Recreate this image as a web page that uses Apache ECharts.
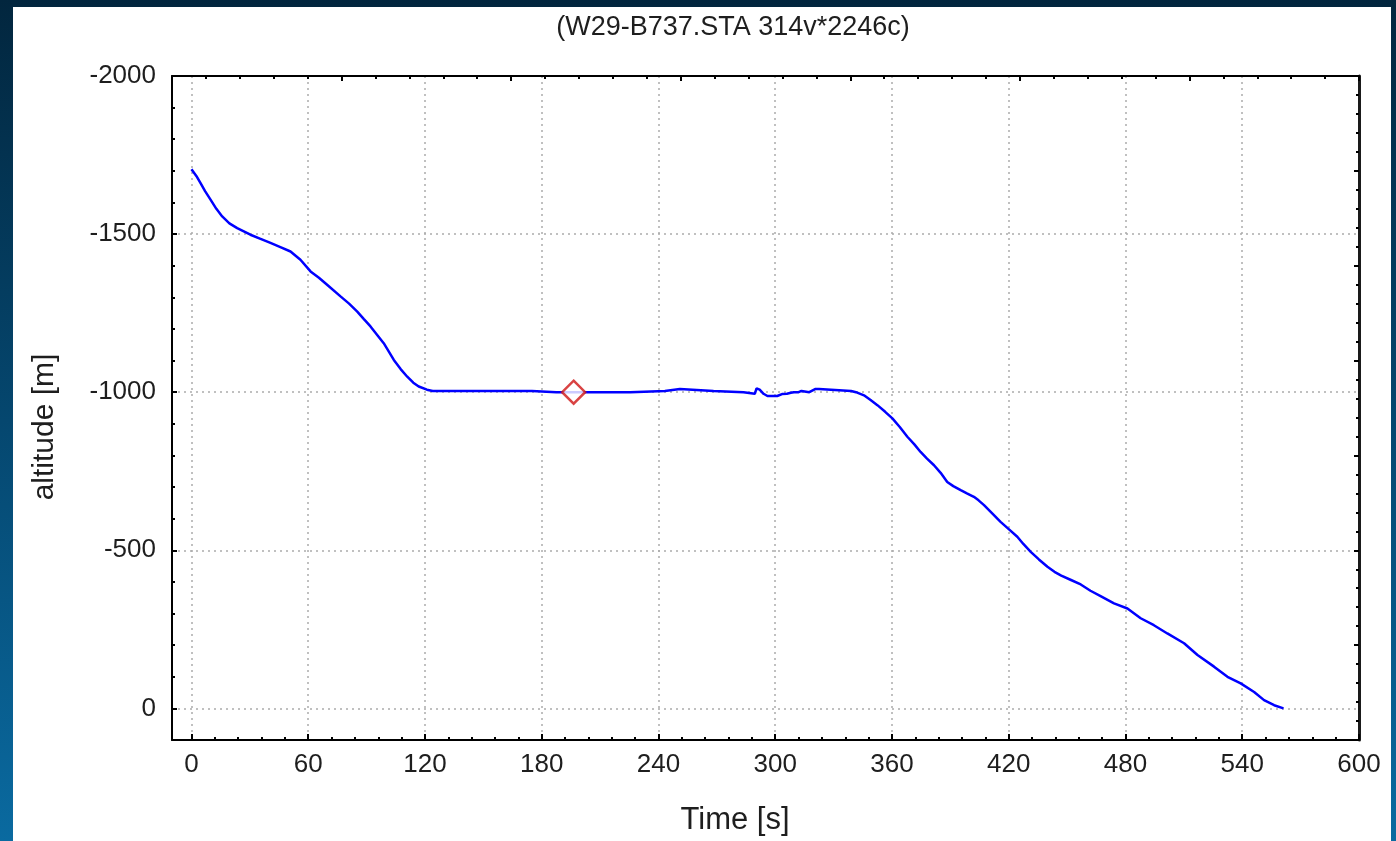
<!DOCTYPE html>
<html>
<head>
<meta charset="utf-8">
<title>W29-B737 altitude profile</title>
<script src="https://cdn.jsdelivr.net/npm/echarts@6/dist/echarts.min.js"></script>
<style>
  html, body {
    margin: 0; padding: 0; width: 1396px; height: 841px; overflow: hidden;
    background: linear-gradient(to bottom, #02263e 0%, #05476f 50%, #0a6aa0 100%);
  }
  #chart {
    position: absolute; left: 13px; top: 7px; width: 1378px; height: 834px;
    background: #ffffff;
  }
</style>
</head>
<body>
<div id="chart"></div>
<script>
// Flight record: elapsed time [s] and altitude [m] (negative = above reference)
const timeS = [
  0, 2.5, 4.6, 7, 9.8, 12.8, 15.8, 19.5, 23.5, 30.3, 35.5, 40.6, 46, 50.9,
  56, 61.2, 65.5, 69.7, 76.6, 81, 85.2, 88.5, 92, 98.8, 104, 107.5, 110.9,
  114, 116.8, 121, 124, 175, 175.3, 187.5, 188.3, 189.5, 225.5, 226, 243.3,
  243.8, 251, 251.4, 268.3, 268.7, 283.7, 284, 289.5, 290.4, 292, 294, 296,
  301, 303.5, 306, 308, 309.6, 312, 312.5, 313.5, 314, 317.5, 318, 320.5,
  322.5, 323.5, 339, 341.5, 345.6, 349, 352.5, 356.5, 360.2, 364, 367.9,
  371.5, 374.7, 378, 381.6, 385, 388.4, 391.5, 395.3, 398.5, 402.1, 404.5,
  407.3, 411.5, 415.8, 420, 424.4, 427.5, 431.3, 435.5, 439.9, 443.5, 447,
  452, 457, 462, 467.2, 474.1, 481, 487.8, 494.6, 501.5, 510.1, 517, 525.5,
  532.4, 539.2, 546.1, 551.2, 556.4, 561.2
];
const altitudeM = [
  -1705, -1684, -1662, -1636, -1609, -1580, -1556, -1534, -1519, -1498, -1485,
  -1472, -1458, -1445, -1419, -1382, -1362, -1340, -1303, -1280, -1255, -1232,
  -1208, -1155, -1102, -1073, -1049, -1030, -1018, -1008, -1004, -1004, -1000,
  -1000, -996, -1000, -1000, -1004, -1004, -1010, -1010, -1004, -1004, -1000,
  -1000, -995, -995, -1012, -1008, -995, -988, -988, -994, -995, -998, -1000,
  -1000, -1004, -1004, -1000, -1000, -1004, -1010, -1010, -1004, -1004, -1000,
  -990, -975, -959, -938, -917, -890, -859, -835, -811, -790, -769, -745, -716,
  -703, -690, -680, -669, -658, -643, -617, -590, -567, -543, -520, -495, -471,
  -448, -432, -420, -406, -392, -372, -355, -332, -316, -285, -263, -237, -206,
  -169, -132, -100, -79, -52, -26, -10, 0
];

// Highlighted sample
const markerPoint = [196.4, -1000];

// Axis ranges and tick labels
const timeRange = [-10, 600];
const altitudeRange = [-2000, 100];
const timeTicks = [0, 60, 120, 180, 240, 300, 360, 420, 480, 540, 600];
const altitudeTicks = [-2000, -1500, -1000, -500, 0];
const timeMinorStep = 12;
const altitudeMinorStep = 100;

// Texts
const chartTitle = '(W29-B737.STA 314v*2246c)';
const xName = 'Time [s]';
const yName = 'altitude [m]';

const timeMinorTicks = [];
for (let v = timeTicks[0]; v <= timeTicks[timeTicks.length - 1]; v += timeMinorStep) timeMinorTicks.push(v);
const altitudeMinorTicks = [];
for (let v = altitudeTicks[0]; v <= altitudeTicks[altitudeTicks.length - 1]; v += altitudeMinorStep) altitudeMinorTicks.push(v);

const FONT = '"Liberation Sans", Arial, sans-serif';
const INK = '#1e1e1e';
const plainNumber = v => String(v);
const frameLine = { show: true, onZero: false, lineStyle: { color: '#000', width: 2 } };
const gridDots = { show: true, lineStyle: { color: '#acacac', width: 1.5, type: [2, 4] } };

const chart = echarts.init(document.getElementById('chart'), null, { renderer: 'canvas' });

chart.setOption({
  animation: false,
  grid: { left: 159, right: 32, top: 69, bottom: 101, containLabel: false },
  xAxis: [
    {
      type: 'value', position: 'bottom', min: timeRange[0], max: timeRange[1],
      axisLine: frameLine,
      axisTick: { show: true, inside: true, length: 6, customValues: timeTicks, lineStyle: { color: '#000', width: 2 } },
      axisLabel: { show: true, customValues: timeTicks, formatter: plainNumber, margin: 12, fontFamily: FONT, fontSize: 26, color: INK },
      splitLine: gridDots
    },
    {
      type: 'value', position: 'bottom', min: timeRange[0], max: timeRange[1],
      axisLine: { show: false, onZero: false },
      axisTick: { show: true, inside: true, length: 3, customValues: timeMinorTicks, lineStyle: { color: '#000', width: 2 } },
      axisLabel: { show: false },
      splitLine: { show: false }
    },
    {
      type: 'value', position: 'top', min: 0, max: 7, interval: 1,
      axisLine: frameLine,
      axisTick: { show: true, inside: true, length: 5, lineStyle: { color: '#000', width: 2 } },
      minorTick: { show: true, splitNumber: 5, length: 3, lineStyle: { color: '#000', width: 2 } },
      axisLabel: { show: false },
      splitLine: { show: false }
    }
  ],
  yAxis: [
    {
      type: 'value', position: 'left', inverse: true, min: altitudeRange[0], max: altitudeRange[1],
      axisLine: frameLine,
      axisTick: { show: true, inside: true, length: 5, customValues: altitudeTicks, lineStyle: { color: '#000', width: 2 } },
      axisLabel: { show: true, customValues: altitudeTicks, formatter: plainNumber, margin: 16, fontFamily: FONT, fontSize: 26, color: INK },
      splitLine: gridDots
    },
    {
      type: 'value', position: 'left', inverse: true, min: altitudeRange[0], max: altitudeRange[1],
      axisLine: { show: false, onZero: false },
      axisTick: { show: true, inside: true, length: 3, customValues: altitudeMinorTicks, lineStyle: { color: '#000', width: 2 } },
      axisLabel: { show: false },
      splitLine: { show: false }
    },
    {
      type: 'value', position: 'right', min: 0, max: 7, interval: 1,
      axisLine: { show: true, onZero: false, lineStyle: { color: '#1a1a1a', width: 3 } },
      axisTick: { show: true, inside: true, length: 5, lineStyle: { color: '#000', width: 2 } },
      minorTick: { show: true, splitNumber: 5, length: 3, lineStyle: { color: '#000', width: 2 } },
      axisLabel: { show: false },
      splitLine: { show: false }
    }
  ],
  series: [
    {
      name: 'altitude', type: 'line', xAxisIndex: 0, yAxisIndex: 0,
      data: timeS.map((t, i) => [t, altitudeM[i]]),
      showSymbol: false, symbol: 'none',
      lineStyle: { color: '#0000ff', width: 2.5 },
      z: 3
    },
    {
      name: 'marker', type: 'scatter', xAxisIndex: 0, yAxisIndex: 0,
      data: [markerPoint],
      symbol: 'diamond', symbolSize: 23,
      itemStyle: { color: '#ffffff', borderColor: '#d01414', borderWidth: 2.5 },
      z: 5
    }
  ],
  graphic: [
    {
      type: 'text', x: 720, y: 21,
      style: { text: chartTitle, fill: INK, fontFamily: FONT, fontSize: 27, align: 'center', verticalAlign: 'middle' }
    },
    {
      type: 'text', x: 722, y: 813,
      style: { text: xName, fill: INK, fontFamily: FONT, fontSize: 31, align: 'center', verticalAlign: 'middle' }
    },
    {
      type: 'text', x: 32, y: 420, rotation: Math.PI / 2,
      style: { text: yName, fill: INK, fontFamily: FONT, fontSize: 30, align: 'center', verticalAlign: 'middle' }
    }
  ]
});
</script>
</body>
</html>
